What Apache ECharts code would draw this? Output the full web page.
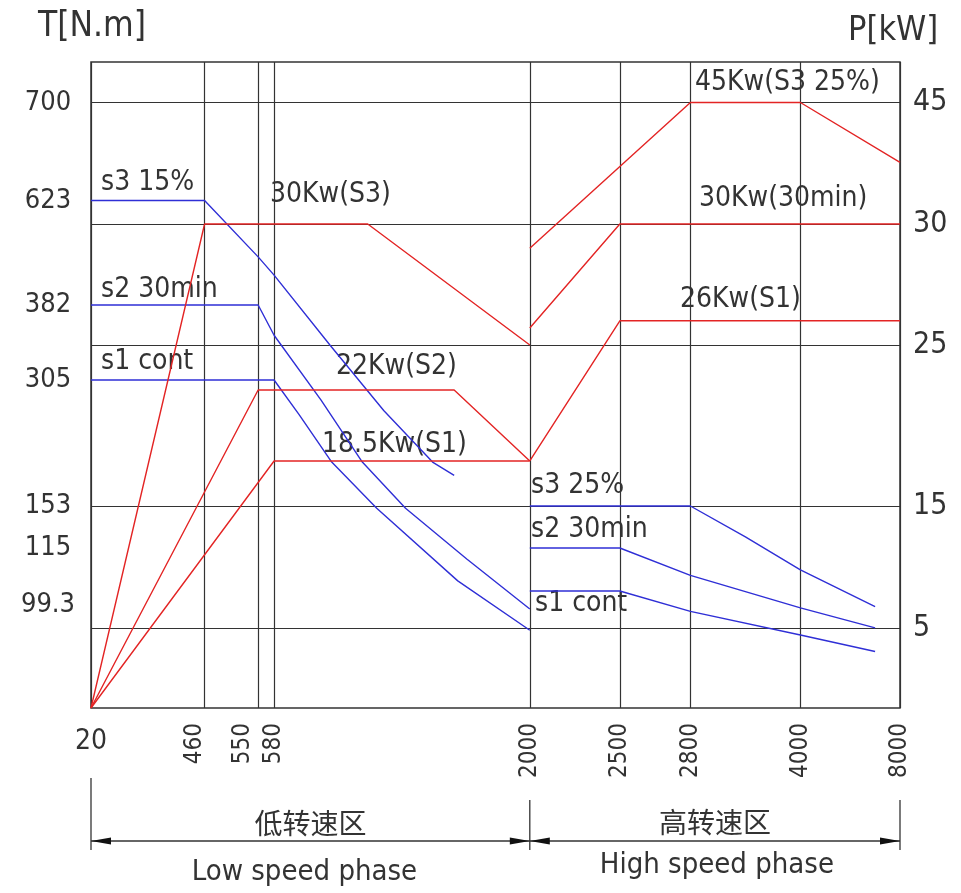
<!DOCTYPE html>
<html>
<head>
<meta charset="utf-8">
<script src="https://cdn.jsdelivr.net/npm/echarts@6/dist/echarts.min.js"></script>
<style>
  html, body { margin: 0; padding: 0; background: #fff; }
  #chart { width: 961px; height: 893px; }
</style>
</head>
<body>
<div id="chart"></div>
<script>
// the drawing is a schematic: ticks are not to scale, so each axis is a
// piecewise scale from tick values to a 0..1 position along the plot
const speedTicks = [20, 460, 550, 580, 2000, 2500, 2800, 4000, 8000];
const speedTickPos = [0, 0.1404, 0.2066, 0.2263, 0.5424, 0.6537, 0.7409, 0.8769, 1];

const torqueTicks = [0, 99.3, 115, 153, 305, 382, 623, 700];
const torqueTickPos = [0, 0.1811, 0.2477, 0.3127, 0.5077, 0.6238, 0.7856, 0.9373];
const torqueLabels = [99.3, 115, 153, 305, 382, 623, 700];

const powerTicks = [0, 5, 15, 18.5, 22, 25, 30, 45];
const powerTickPos = [0, 0.1231, 0.3127, 0.3824, 0.4923, 0.5619, 0.7492, 0.9373];
const powerLabels = [5, 15, 25, 30, 45];

// torque curves, [rpm, N.m]
const s3LowTorque = [[20, 623], [460, 623], [550, 493], [580, 451], [890, 341], [1190, 268], [1460, 206], [1580, 190]];
const s2LowTorque = [[20, 382], [550, 382], [580, 351], [840, 281], [1070, 206], [1310, 151], [1650, 111], [2000, 84]];
const s1LowTorque = [[20, 305], [580, 305], [720, 263], [900, 206], [1150, 151], [1600, 103], [2000, 66]];
const s3HighTorque = [[2000, 153], [2800, 153], [3400, 125], [4000, 107], [7000, 86]];
const s2HighTorque = [[2000, 115], [2500, 115], [2800, 105], [4000, 85], [7000, 68]];
const s1HighTorque = [[2000, 99.3], [2500, 99.3], [2800, 82], [4000, 62], [7000, 48]];

// power curves, [rpm, kW]
const s3LowPower = [[20, 0], [460, 30], [1100, 30], [2000, 25]];
const s2LowPower = [[20, 0], [550, 22], [1580, 22], [2000, 18.5]];
const s1LowPower = [[20, 0], [580, 18.5], [2000, 18.5]];
const s3HighPower = [[2000, 29], [2800, 45], [4000, 45], [8000, 37.6]];
const s2HighPower = [[2000, 25.7], [2500, 30], [8000, 30]];
const s1HighPower = [[2000, 18.5], [2500, 26], [8000, 26]];

const notes = [
  ['s3 15%', 101, 183],
  ['s2 30min', 101, 290],
  ['s1 cont', 101, 362],
  ['30Kw(S3)', 270, 195],
  ['22Kw(S2)', 336, 367],
  ['18.5Kw(S1)', 322, 445],
  ['45Kw(S3 25%)', 695, 83],
  ['30Kw(30min)', 699, 199],
  ['26Kw(S1)', 680, 300],
  ['s3 25%', 531, 486],
  ['s2 30min', 531, 530],
  ['s1 cont', 535, 604]
];

const FONT = '"Liberation Sans Narrow", "DejaVu Sans Condensed", "Liberation Sans", sans-serif';
const INK = '#333';
const BLUE = '#2f2fd6';
const RED = '#e32424';

function piecewise(v, vals, pos) {
  for (let i = 1; i < vals.length; i++) {
    if (v <= vals[i] || i === vals.length - 1) {
      const t = (v - vals[i - 1]) / (vals[i] - vals[i - 1]);
      return pos[i - 1] + t * (pos[i] - pos[i - 1]);
    }
  }
}
const sx = n => piecewise(n, speedTicks, speedTickPos);
const sT = v => piecewise(v, torqueTicks, torqueTickPos);
const sP = v => piecewise(v, powerTicks, powerTickPos);

function labelFor(value, labels, scale) {
  let best = labels[0];
  labels.forEach(l => { if (Math.abs(scale(l) - value) < Math.abs(scale(best) - value)) best = l; });
  return best;
}

function curve(data, color, yIndex, scale) {
  return {
    type: 'line',
    xAxisIndex: 0,
    yAxisIndex: yIndex,
    data: data.map(([n, v]) => [sx(n), scale(v)]),
    symbol: 'none',
    lineStyle: { color: color, width: 1.4 },
    silent: true,
    z: 3
  };
}

const chart = echarts.init(document.getElementById('chart'));

const rotatedSpeeds = speedTicks.slice(1);

chart.setOption({
  animation: false,
  backgroundColor: '#fff',
  grid: { left: 91, right: 61, top: 62, bottom: 185, show: true, borderColor: INK, borderWidth: 1.5 },
  xAxis: [
    {
      type: 'value', min: 0, max: 1, position: 'bottom',
      axisLine: { show: false },
      axisTick: { show: false, customValues: speedTicks.map(sx) },
      splitLine: { show: true, lineStyle: { color: INK, width: 1.2 } },
      axisLabel: {
        customValues: rotatedSpeeds.map(sx),
        rotate: 90,
        margin: 15,
        color: INK,
        fontFamily: FONT,
        fontSize: 24,
        formatter: v => {
          const n = labelFor(v, rotatedSpeeds, sx);
          if (n === 460) return '{a|' + n + '}';
          if (n === 550) return '{b|' + n + '}';
          return '{n|' + n + '}';
        },
        rich: {
          a: { padding: [0, 0, 19, 0] },
          b: { padding: [0, 0, 31, 0] },
          n: {}
        }
      }
    },
    {
      type: 'value', min: 0, max: 1, position: 'bottom',
      axisLine: { show: false },
      axisTick: { show: false, customValues: [sx(20)] },
      splitLine: { show: false },
      axisLabel: {
        customValues: [sx(20)],
        margin: 20,
        color: INK,
        fontFamily: FONT,
        fontSize: 28,
        formatter: () => '20'
      }
    }
  ],
  yAxis: [
    {
      type: 'value', min: 0, max: 1, position: 'left',
      axisLine: { show: false },
      axisTick: { show: false, customValues: torqueLabels.map(sT) },
      splitLine: { show: false },
      axisLabel: {
        customValues: torqueLabels.map(sT),
        margin: 43,
        align: 'center',
        color: INK,
        fontFamily: FONT,
        fontSize: 27,
        formatter: v => {
          const t = labelFor(v, torqueLabels, sT);
          return t === 99.3 ? '{d|99.3}' : String(t);
        },
        rich: { d: { padding: [28, 0, 0, 0] } }
      }
    },
    {
      type: 'value', min: 0, max: 1, position: 'right',
      axisLine: { show: false },
      axisTick: { show: false, customValues: powerLabels.map(sP) },
      splitLine: { show: true, lineStyle: { color: INK, width: 1.2 } },
      axisLabel: {
        customValues: powerLabels.map(sP),
        margin: 13,
        color: INK,
        fontFamily: FONT,
        fontSize: 30,
        formatter: v => String(labelFor(v, powerLabels, sP))
      }
    }
  ],
  series: [
    curve(s3LowTorque, BLUE, 0, sT),
    curve(s2LowTorque, BLUE, 0, sT),
    curve(s1LowTorque, BLUE, 0, sT),
    curve(s3HighTorque, BLUE, 0, sT),
    curve(s2HighTorque, BLUE, 0, sT),
    curve(s1HighTorque, BLUE, 0, sT),
    curve(s3LowPower, RED, 1, sP),
    curve(s2LowPower, RED, 1, sP),
    curve(s1LowPower, RED, 1, sP),
    curve(s3HighPower, RED, 1, sP),
    curve(s2HighPower, RED, 1, sP),
    curve(s1HighPower, RED, 1, sP)
  ]
});

// annotations and the speed-range dimension lines under the axis
const xa = chart.convertToPixel({ xAxisIndex: 0 }, sx(20));
const xb = chart.convertToPixel({ xAxisIndex: 0 }, sx(2000));
const xc = chart.convertToPixel({ xAxisIndex: 0 }, sx(8000));
const dimY = 841;

function text(str, x, y, size, align, family) {
  return {
    type: 'text', x: x, y: y, silent: true,
    style: { text: str, fill: INK, fontSize: size, fontFamily: family || FONT, align: align || 'left', verticalAlign: 'middle' }
  };
}
function vline(x, y1, y2) {
  return { type: 'line', silent: true, shape: { x1: x, y1: y1, x2: x, y2: y2 }, style: { stroke: INK, lineWidth: 1.3 } };
}
function arrow(x, dir) {
  return {
    type: 'polygon', silent: true,
    shape: { points: [[x, dimY], [x + dir * 20, dimY - 3.5], [x + dir * 20, dimY + 3.5]] },
    style: { fill: '#111' }
  };
}

const cjk = '"Noto Sans CJK SC", sans-serif';
const graphics = notes.map(([s, x, y]) => text(s, x, y, 28));
graphics.push(
  text('T[N.m]', 38, 27, 35),
  text('P[kW]', 848, 31, 34),
  vline(xa, 778, 850),
  vline(xb, 800, 850),
  vline(xc, 800, 850),
  { type: 'line', silent: true, shape: { x1: xa, y1: dimY, x2: xc, y2: dimY }, style: { stroke: INK, lineWidth: 1.3 } },
  arrow(xa, 1), arrow(xb, -1), arrow(xb, 1), arrow(xc, -1),
  text('低转速区', (xa + xb) / 2, 823, 28, 'center', cjk),
  text('高转速区', (xb + xc) / 2, 822, 28, 'center', cjk),
  text('Low speed phase', (xa + xb) / 2 - 6, 872, 29, 'center'),
  text('High speed phase', (xb + xc) / 2 + 2, 865, 29, 'center')
);
chart.setOption({ graphic: graphics });
</script>
</body>
</html>
